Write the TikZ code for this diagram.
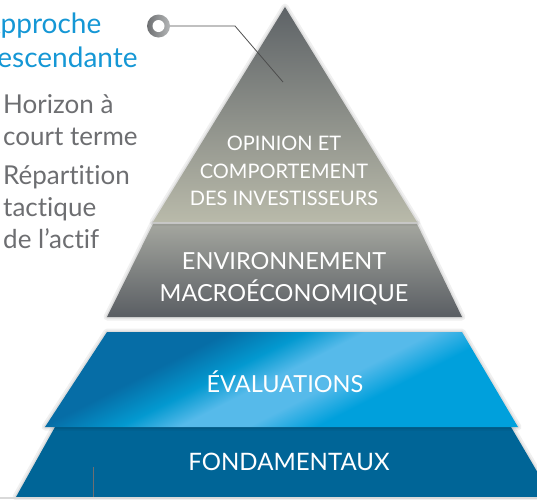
\documentclass[tikz,border=0pt]{standalone}
\usepackage{fontspec}
\setmainfont{Lato}[Ligatures=NoCommon]
\usetikzlibrary{positioning,calc}
\definecolor{greytop}{HTML}{5E6367}
\definecolor{beige}{HTML}{B9BAAA}
\definecolor{envtop}{HTML}{A4A69F}
\definecolor{envbot}{HTML}{5A5E63}
\definecolor{blueA}{HTML}{066DA6}
\definecolor{blueM}{HTML}{0399D0}
\definecolor{blueB}{HTML}{56BAEA}
\definecolor{blueC}{HTML}{00A0DC}
\definecolor{fondblue}{HTML}{006597}
\definecolor{titleblue}{HTML}{1597D5}
\definecolor{textgrey}{HTML}{6D6E71}
\definecolor{ringdark}{HTML}{6E7072}
\definecolor{ringlight}{HTML}{B4B6B7}
\pgfdeclarehorizontalshading{evalshade}{100bp}{color(0bp)=(blueA); color(35bp)=(blueA);
  color(43bp)=(blueM); color(49bp)=(blueB); color(56bp)=(blueB); color(63bp)=(blueC); color(100bp)=(blueC)}

\begin{document}
\begin{tikzpicture}[x=1pt,y=-1pt,
  layer/.style={preaction={draw=black,opacity=.06,line width=7pt,line join=round},
                preaction={draw=black,opacity=.08,line width=3pt,line join=round}},
  lbl/.style={text=white,align=center,inner sep=0pt},
  side/.style={text=textgrey,align=left,anchor=base west,inner sep=0pt,font=\fontsize{26}{32}\selectfont}]
  \clip (0,0) rectangle (537,499);
  \useasboundingbox (0,0) rectangle (537,499);
  % pyramid, from the base up
  \fill[fondblue,layer] (55,427) -- (511,427) -- (552,497) -- (16,497) -- cycle;
  \draw[black!15,line width=2pt] (0,498) -- (537,498);
  \draw[textgrey] (93,467) -- (93,497);
  \shade[layer,shading=evalshade,shading angle=-63]
    (107,332) -- (462,332) -- (518,427) -- (45,427) -- cycle;
  \shade[layer,top color=envtop,bottom color=envbot] (153,224) -- (417,224) -- (462,317) -- (107,317) -- cycle;
  \shade[layer,top color=greytop,bottom color=beige] (285,7) -- (417,222) -- (153,222) -- cycle;
  % labels
  \node[lbl,font=\fontsize{20}{27.5}\selectfont] (opinion) at (284,171) {OPINION ET\\COMPORTEMENT\\DES INVESTISSEURS};
  \node[lbl,font=\fontsize{23.5}{32}\selectfont] (macro) at (284,279) {ENVIRONNEMENT\\MACROÉCONOMIQUE};
  \node[lbl,font=\fontsize{23.5}{32}\selectfont] (eval) at (285,382) {ÉVALUATIONS};
  \node[lbl,font=\fontsize{24}{32}\selectfont] (fond) at (289,462) {FONDAMENTAUX};
  % side texts (base = last line)
  \node[side,text=titleblue,font=\fontsize{28}{34}\selectfont] (approach) at (-18.5,67) {Approche\\descendante};
  \node[side] (horizon) at (3,145) {Horizon à\\court terme};
  \node[side] (repart) at (3,248) {Répartition\\tactique\\de l’actif};
  % marker
  \node[circle,minimum size=23pt,inner sep=0pt,left color=ringdark,right color=ringlight,
        path picture={\fill[white] (path picture bounding box.center) circle (6pt);}] (ring) at (158.5,26) {};
  \coordinate (bend) at (235,26);
  \coordinate (tip) at (283,82);
  \draw[black!70,line width=.8pt] (ring.east) -- (bend) -- (tip);
\end{tikzpicture}
\end{document}
